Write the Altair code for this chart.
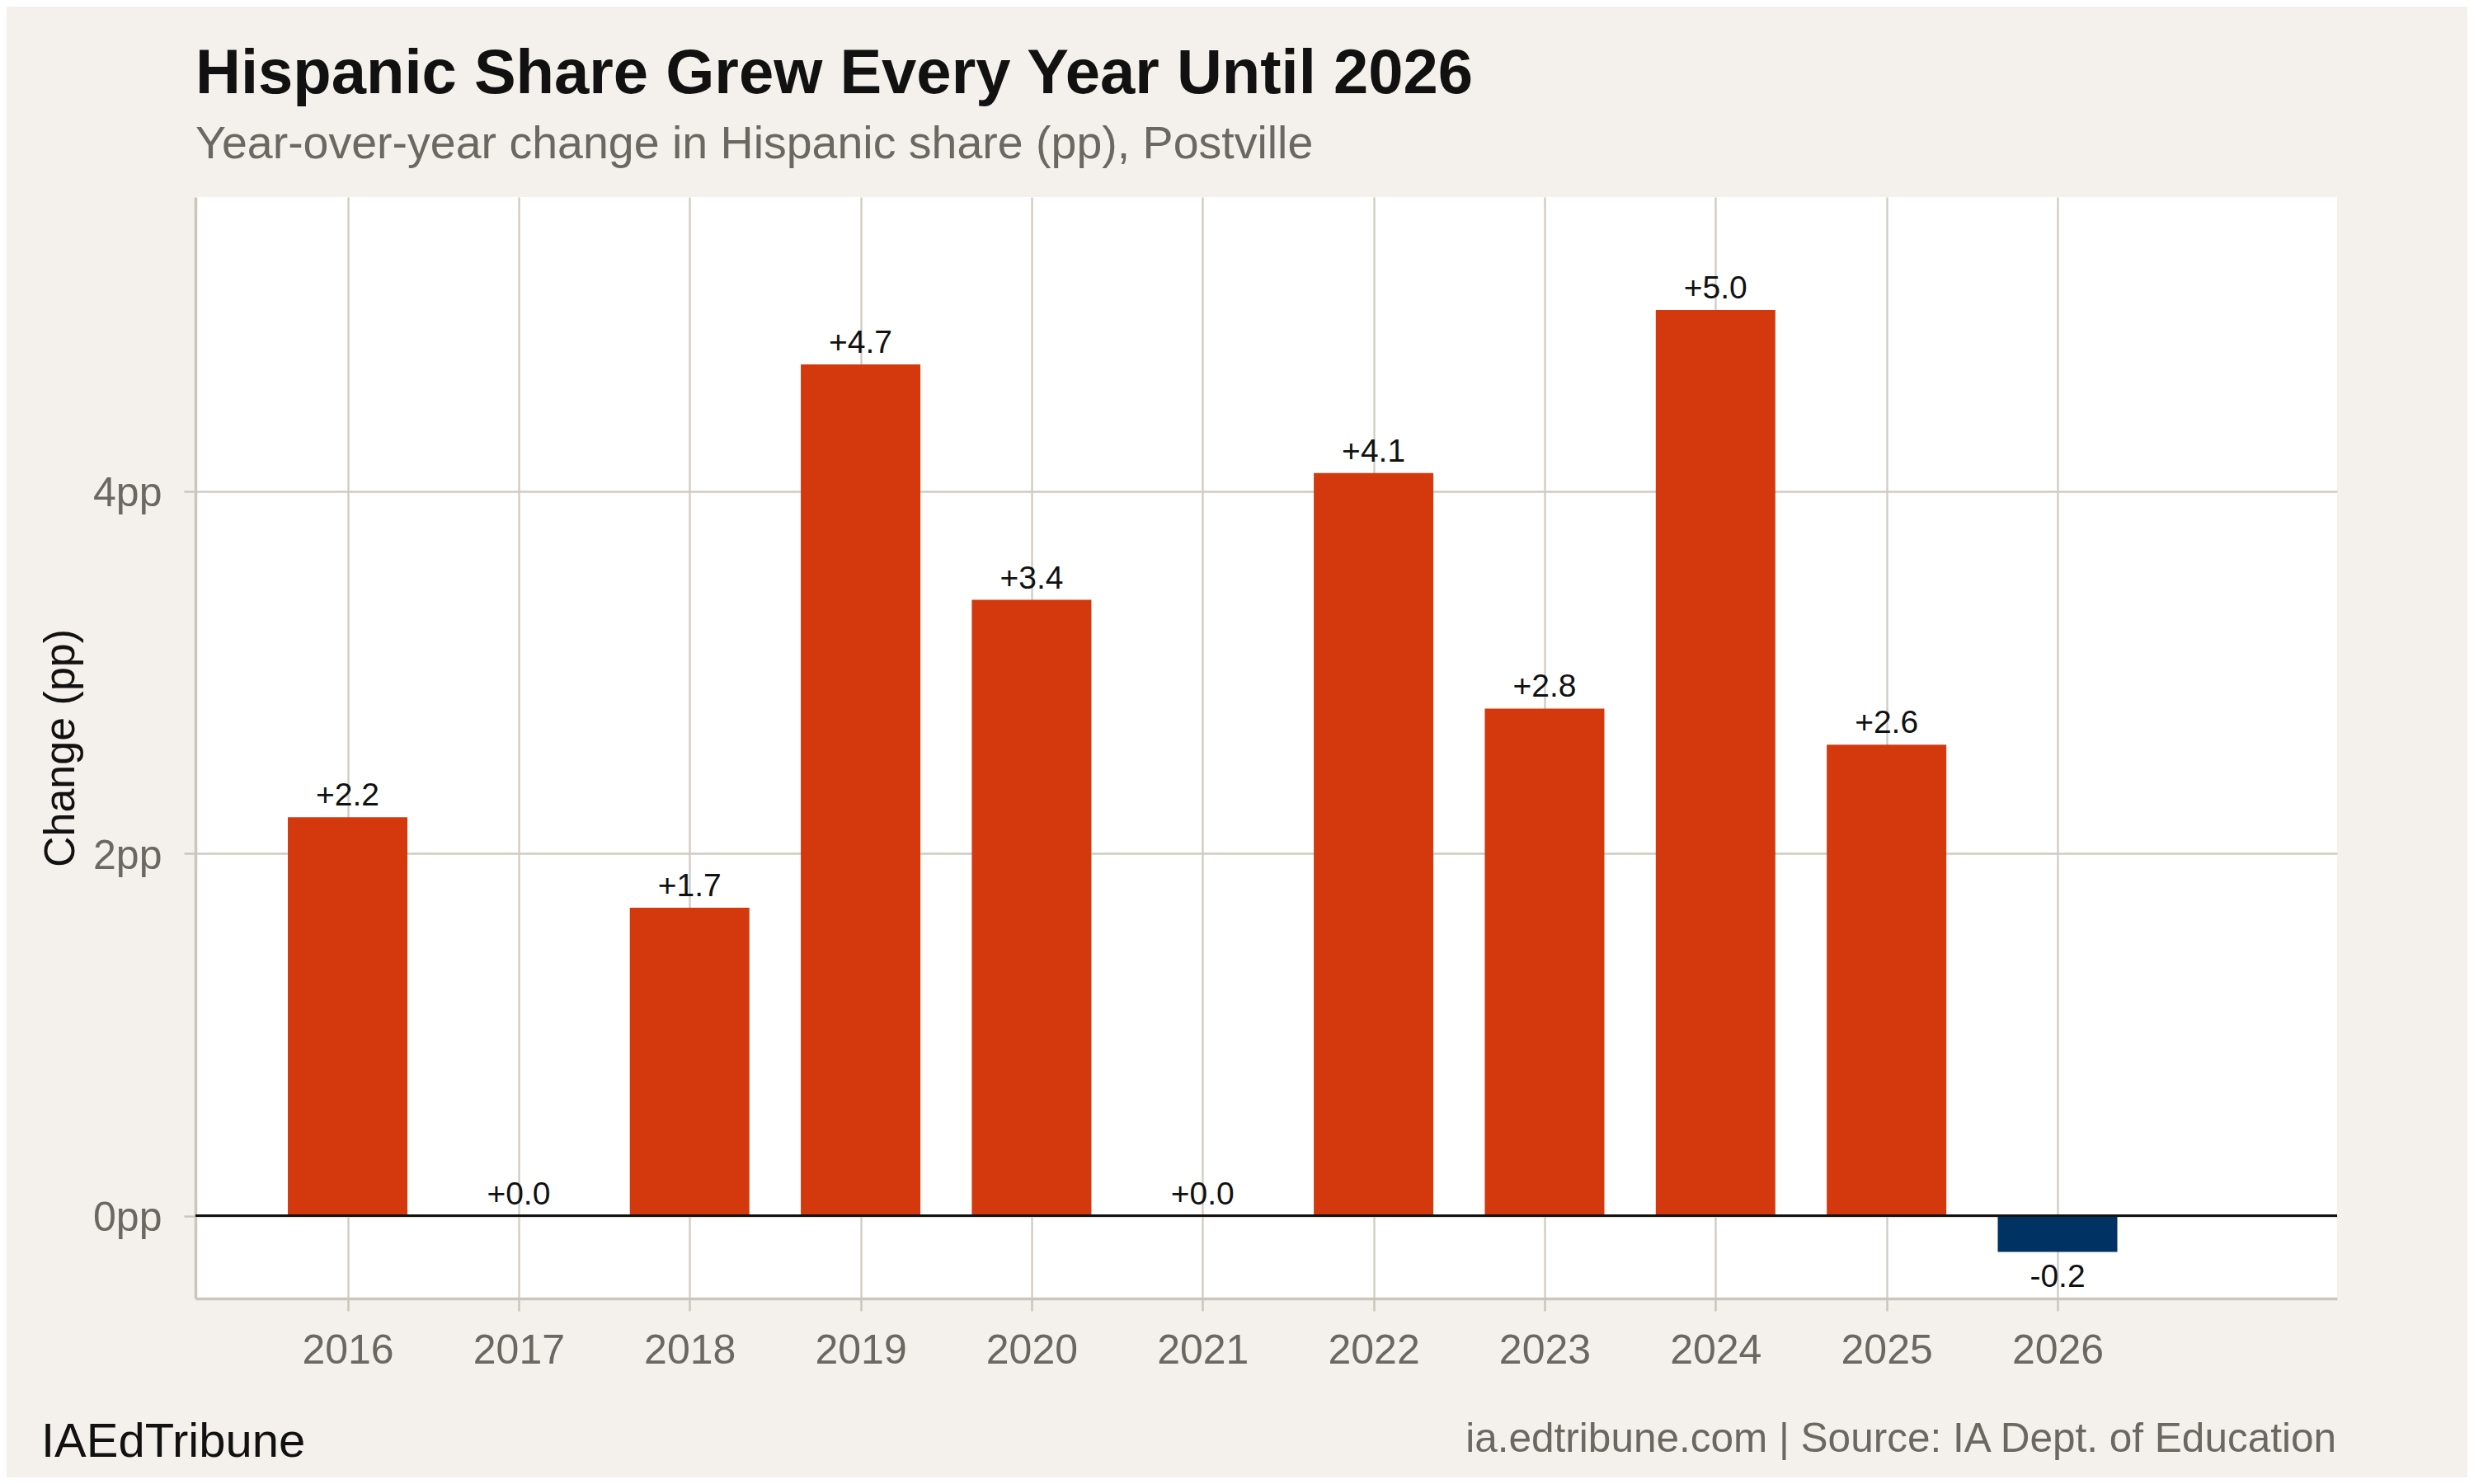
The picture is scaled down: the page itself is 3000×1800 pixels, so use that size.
import altair as alt
import pandas as pd

# ---- data ----
years = [2016, 2017, 2018, 2019, 2020, 2021, 2022, 2023, 2024, 2025, 2026]
changes = [2.2, 0.0, 1.7, 4.7, 3.4, 0.0, 4.1, 2.8, 5.0, 2.6, -0.2]
labels = ["+2.2", "+0.0", "+1.7", "+4.7", "+3.4", "+0.0", "+4.1", "+2.8", "+5.0", "+2.6", "-0.2"]
y_ticks = [0, 2, 4]

title_text = "Hispanic Share Grew Every Year Until 2026"
subtitle_text = "Year-over-year change in Hispanic share (pp), Postville"
footer_left = ["IAEdTribune"]
footer_right = ["ia.edtribune.com | Source: IA Dept. of Education"]

FONT = "Liberation Sans"
RED = "#d4390d"
NAVY = "#003363"
GRID = "#d0cbc2"
AXISLINE = "#cbc6bc"
GREY = "#6b6862"
INK = "#111111"
BG = "#f4f1ec"

df = pd.DataFrame({"year": years, "change": changes, "label": labels})
df["dir"] = ["Decrease" if v < 0 else "Increase" for v in changes]

W, H = 2597, 1336

x_enc = alt.X(
    "year:Q",
    scale=alt.Scale(domain=[2015.11, 2027.635], nice=False, zero=False, padding=0),
    axis=alt.Axis(
        values=years, format="d", title=None,
        labelFont=FONT, labelFontSize=50, labelColor=GREY, labelPadding=23,
        tickSize=15, tickColor=AXISLINE, tickWidth=2.5,
        domainColor=AXISLINE, domainWidth=3.5,
        grid=True, gridColor=GRID, gridWidth=2.3,
    ),
)
y_enc = alt.Y(
    "change:Q",
    scale=alt.Scale(domain=[-0.457, 5.624], nice=False, zero=False, padding=0),
    axis=alt.Axis(
        values=y_ticks, labelExpr="datum.value + 'pp'", title="Change (pp)",
        labelFont=FONT, labelFontSize=50, labelColor=GREY, labelPadding=27,
        labelOffset=3,
        tickSize=14, tickColor=AXISLINE, tickWidth=2.5,
        domainColor=AXISLINE, domainWidth=3.5,
        grid=True, gridColor=GRID, gridWidth=2.3,
        titleFont=FONT, titleFontSize=52, titleFontWeight="normal", titleColor=INK,
        titlePadding=12,
    ),
)

bars = alt.Chart(df).mark_bar(size=145).encode(
    x=x_enc,
    y=y_enc,
    color=alt.Color("dir:N", scale=alt.Scale(domain=["Increase", "Decrease"], range=[RED, NAVY]), legend=None),
)

pos_labels = alt.Chart(df).transform_filter("datum.change >= 0").mark_text(
    font=FONT, fontSize=39, color=INK, baseline="alphabetic", dy=-14
).encode(x="year:Q", y="change:Q", text="label:N")

neg_labels = alt.Chart(df).transform_filter("datum.change < 0").mark_text(
    font=FONT, fontSize=39, color=INK, baseline="alphabetic", dy=42
).encode(x="year:Q", y="change:Q", text="label:N")

zero_line = alt.Chart(df).mark_rule(color=INK, strokeWidth=3).encode(y=alt.datum(0))

foot_l = alt.Chart(pd.DataFrame({"t": footer_left})).mark_text(
    font=FONT, fontSize=58, color=INK, align="left", baseline="alphabetic"
).encode(text="t:N", x=alt.value(-187), y=alt.value(1528))

foot_r = alt.Chart(pd.DataFrame({"t": footer_right})).mark_text(
    font=FONT, fontSize=49.5, color=GREY, align="right", baseline="alphabetic"
).encode(text="t:N", x=alt.value(W - 1), y=alt.value(1522))

chart = alt.layer(bars, zero_line, pos_labels, neg_labels, foot_l, foot_r).properties(
    width=W,
    height=H,
    title=alt.TitleParams(
        text=title_text,
        subtitle=subtitle_text,
        anchor="start",
        frame="group",
        font=FONT,
        fontSize=76,
        fontWeight="bold",
        color=INK,
        subtitleFont=FONT,
        subtitleFontSize=55.5,
        subtitleColor=GREY,
        subtitlePadding=19,
        offset=35,
    ),
    autosize=alt.AutoSizeParams(type="none"),
    padding={"left": 229, "top": 231, "right": 158, "bottom": 217},
    background=BG,
).configure_view(fill="white", strokeWidth=0)

chart.save("out.html", embed_options={"renderer": "svg", "actions": False})
